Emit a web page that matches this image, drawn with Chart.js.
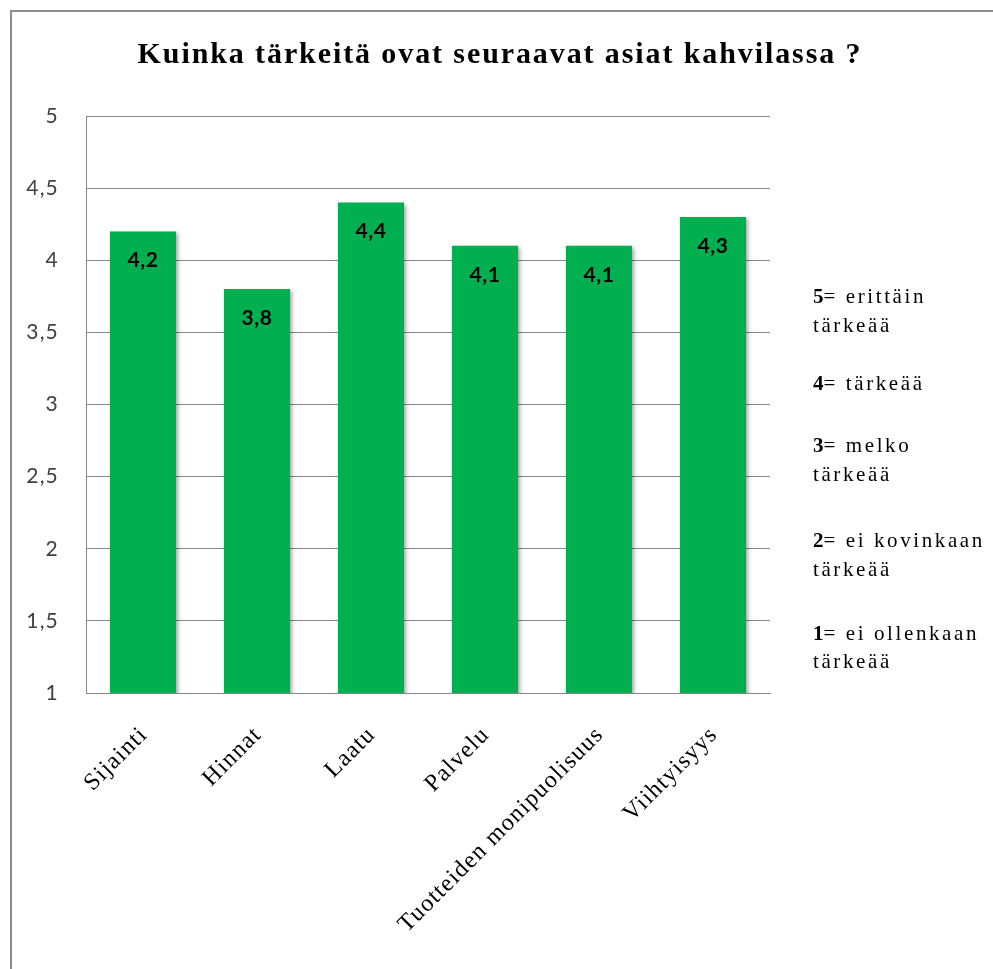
<!DOCTYPE html>
<html>
<head>
<meta charset="utf-8">
<script src="https://cdn.jsdelivr.net/npm/chart.js@4.4.1/dist/chart.umd.min.js"></script>
<style>
  html, body { margin: 0; padding: 0; background: #fff; overflow: hidden; }
  #wrap { position: relative; width: 993px; height: 969px; }
  #frame { position: absolute; left: 10px; top: 10px; width: 1000px; height: 1000px; border: 2px solid #8c8c8c; box-sizing: border-box; }
  canvas { position: absolute; left: 0; top: 0; }
  .note { position: absolute; left: 813px; font-family: 'Liberation Serif', 'Times New Roman', serif; font-size: 21px; color: #000; white-space: nowrap; line-height: 1; letter-spacing: 2.6px; }
  .note b { font-weight: bold; letter-spacing: 0; }
</style>
</head>
<body>
<div id="wrap">
  <div id="frame"></div>
  <canvas id="c" width="993" height="969"></canvas>
  <div class="note" style="top:286px"><b>5</b>= erittäin</div>
  <div class="note" style="top:315px">tärkeää</div>
  <div class="note" style="top:373px"><b>4</b>= tärkeää</div>
  <div class="note" style="top:435px"><b>3</b>= melko</div>
  <div class="note" style="top:464px">tärkeää</div>
  <div class="note" style="top:530px"><b>2</b>= ei kovinkaan</div>
  <div class="note" style="top:559px">tärkeää</div>
  <div class="note" style="top:623px"><b>1</b>= ei ollenkaan</div>
  <div class="note" style="top:651px">tärkeää</div>
</div>
<script>
const title = 'Kuinka tärkeitä ovat seuraavat asiat kahvilassa ?';
const categories = ['Sijainti', 'Hinnat', 'Laatu', 'Palvelu', 'Tuotteiden monipuolisuus', 'Viihtyisyys'];
const values = [4.2, 3.8, 4.4, 4.1, 4.1, 4.3];
const yMin = 1, yMax = 5, yStep = 0.5;

const fmt = v => String(Math.round(v * 10) / 10).replace('.', ',');

const spacingPlugin = {
  id: 'spacing',
  beforeDraw(chart) { chart.ctx.letterSpacing = '1.2px'; }
};

const shadowPlugin = {
  id: 'barShadow',
  beforeDatasetsDraw(chart) {
    const ctx = chart.ctx;
    ctx.save();
    ctx.shadowColor = 'rgba(0,0,0,0.35)';
    ctx.shadowBlur = 4;
    ctx.shadowOffsetX = 2;
    ctx.shadowOffsetY = 2;
  },
  afterDatasetsDraw(chart) {
    chart.ctx.restore();
  }
};

const labelPlugin = {
  id: 'barValues',
  afterDatasetsDraw(chart) {
    const ctx = chart.ctx;
    const meta = chart.getDatasetMeta(0);
    ctx.save();
    ctx.letterSpacing = '0.5px';
    ctx.font = 'bold 21px Lato, "Liberation Sans", sans-serif';
    ctx.fillStyle = '#000';
    ctx.textAlign = 'center';
    ctx.textBaseline = 'middle';
    meta.data.forEach((bar, i) => {
      ctx.fillText(fmt(values[i]), bar.x, bar.y + 29);
    });
    ctx.restore();
  }
};

const titlePlugin = {
  id: 'bigTitle',
  afterDraw(chart) {
    const ctx = chart.ctx;
    ctx.save();
    ctx.letterSpacing = '1.9px';
    ctx.font = 'bold 30px "Liberation Serif", "Times New Roman", serif';
    ctx.fillStyle = '#000';
    ctx.textAlign = 'center';
    ctx.textBaseline = 'alphabetic';
    ctx.fillText(title, 500, 63);
    ctx.restore();
  }
};

new Chart(document.getElementById('c'), {
  type: 'bar',
  data: {
    labels: categories,
    datasets: [{
      data: values,
      backgroundColor: '#00B050',
      borderWidth: 0,
      categoryPercentage: 1,
      barPercentage: 0.58
    }]
  },
  options: {
    responsive: false,
    animation: false,
    devicePixelRatio: 1,
    layout: { padding: { top: 116, left: 0, right: 223, bottom: 0 } },
    plugins: {
      legend: { display: false },
      tooltip: { enabled: false },
      title: { display: false }
    },
    scales: {
      x: {
        grid: { display: false, drawTicks: false },
        border: { display: true, color: '#888888', width: 1 },
        ticks: {
          color: '#000',
          font: { family: '"Liberation Serif", "Times New Roman", serif', size: 24 },
          maxRotation: 45,
          minRotation: 45,
          autoSkip: false,
          padding: 28,
          labelOffset: 1
        },
        afterFit(scale) { scale.height = 276; }
      },
      y: {
        min: yMin,
        max: yMax,
        grid: { color: '#888888', lineWidth: 1, drawTicks: false },
        border: { display: true, color: '#888888', width: 1 },
        ticks: {
          stepSize: yStep,
          color: '#404040',
          font: { family: 'Lato, "Liberation Sans", sans-serif', size: 21 },
          padding: 27,
          callback: v => fmt(v)
        },
        afterFit(scale) { scale.width = 86; }
      }
    }
  },
  plugins: [spacingPlugin, shadowPlugin, labelPlugin, titlePlugin]
});
</script>
</body>
</html>
